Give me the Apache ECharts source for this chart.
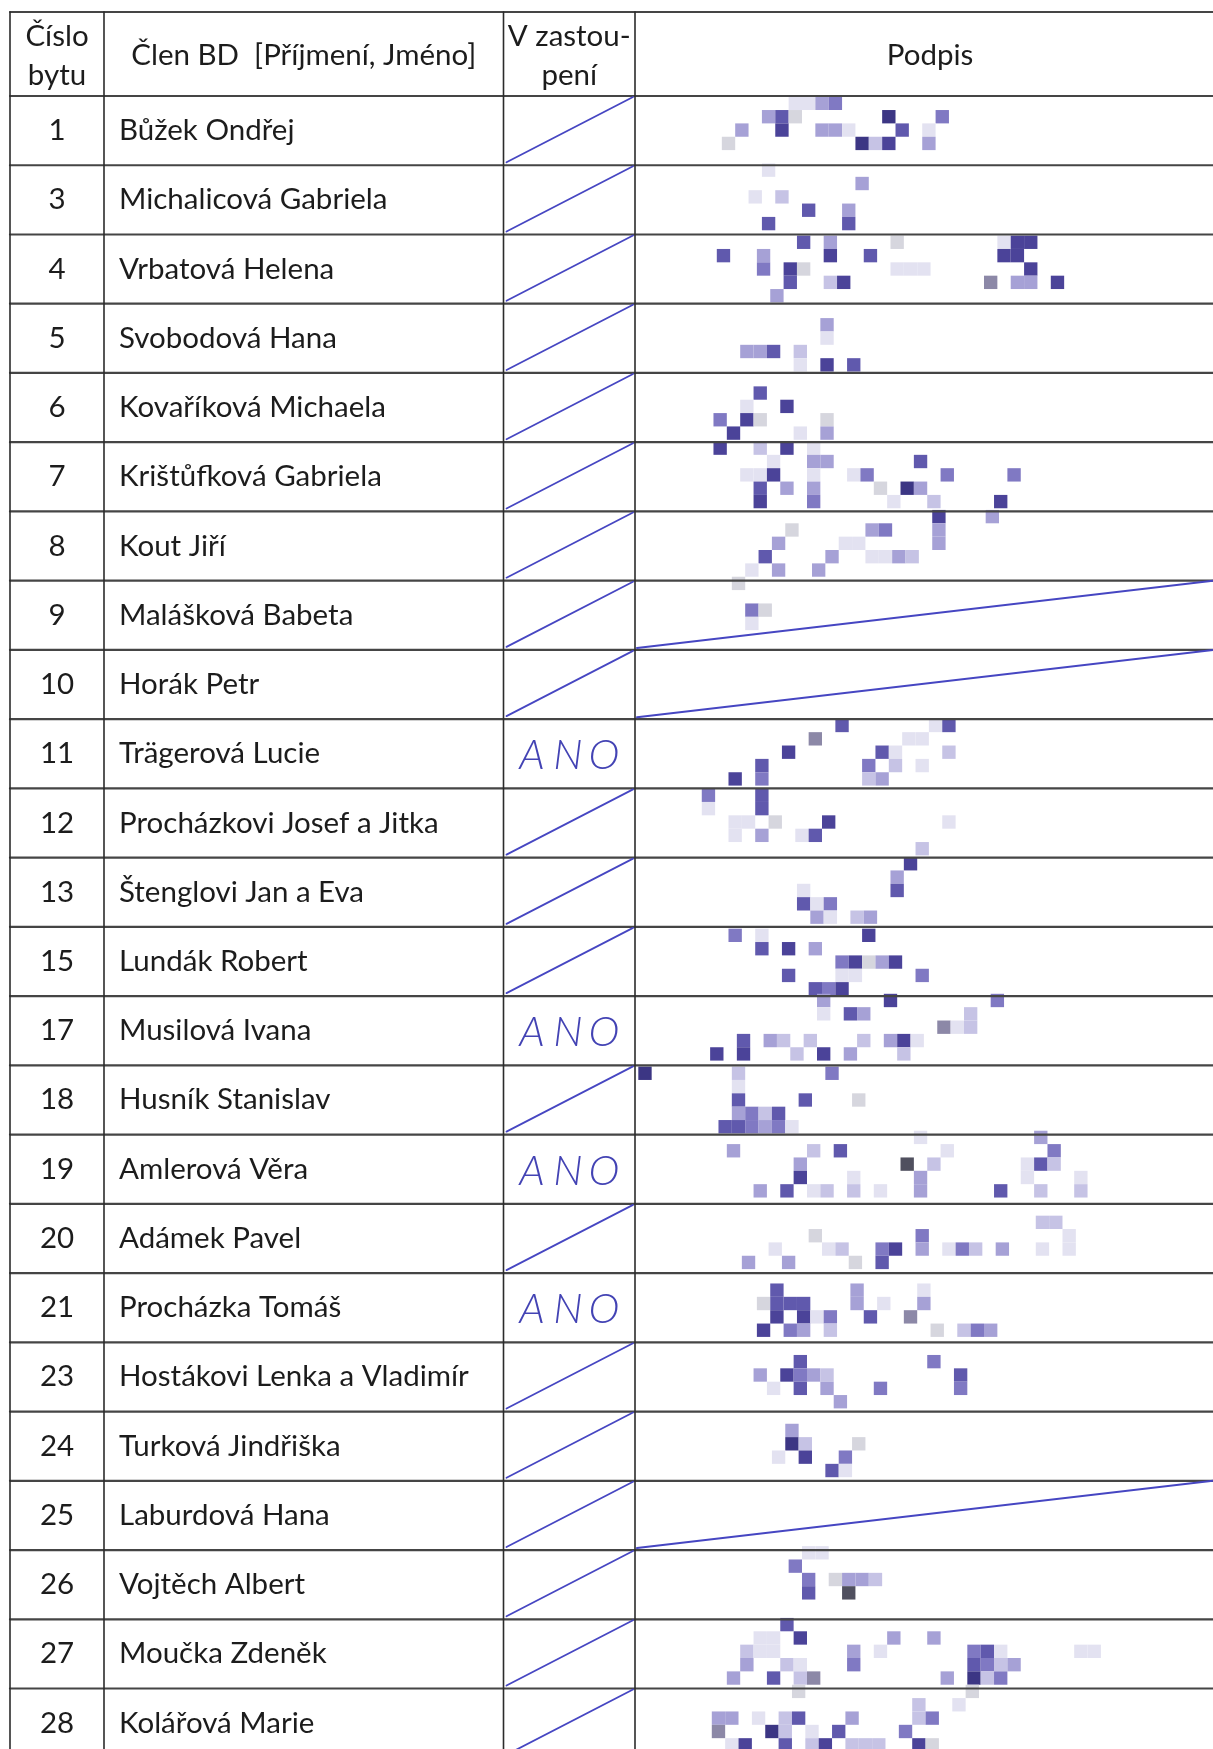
<!DOCTYPE html>
<html><head><meta charset="utf-8">
<script src="https://cdn.jsdelivr.net/npm/echarts@6/dist/echarts.min.js"></script>
<style>html,body{margin:0;padding:0;background:#fff}#c{width:1213px;height:1749px}</style>
</head><body><div id="c"></div>
<script>
// ---------------- DATA ----------------
const headerLabels = ['Číslo\nbytu', 'Člen BD  [Příjmení, Jméno]', 'V zastou-\npení', 'Podpis'];
const bytNumbers = [1, 3, 4, 5, 6, 7, 8, 9, 10, 11, 12, 13, 15, 17, 18, 19, 20, 21, 23, 24, 25, 26, 27, 28];
const memberNames = ['Bůžek Ondřej', 'Michalicová Gabriela', 'Vrbatová Helena', 'Svobodová Hana',
  'Kovaříková Michaela', 'Krištůfková Gabriela', 'Kout Jiří', 'Malášková Babeta', 'Horák Petr',
  'Trägerová Lucie', 'Procházkovi Josef a Jitka', 'Štenglovi Jan a Eva', 'Lundák Robert',
  'Musilová Ivana', 'Husník Stanislav', 'Amlerová Věra', 'Adámek Pavel', 'Procházka Tomáš',
  'Hostákovi Lenka a Vladimír', 'Turková Jindřiška', 'Laburdová Hana', 'Vojtěch Albert',
  'Moučka Zdeněk', 'Kolářová Marie'];
// '' = crossed out with a slash, 'ANO' = handwritten yes
const representation = ['', '', '', '', '', '', '', '', '', 'ANO', '', '', '', 'ANO', '', 'ANO', '', 'ANO', '', '', '', '', '', ''];
// rows whose signature cell is struck through instead of signed
const struckSignatureRows = [7, 8, 20];
// pixelated signatures: cells [col, row, shade level]
const signatures = [
  {row: 0, cells: [[11,0,1],[12,0,1],[13,0,3],[14,0,4],[9,1,3],[10,1,5],[11,1,9],[18,1,7],[22,1,4],[7,2,3],[10,2,6],[13,2,3],[14,2,3],[15,2,1],[19,2,5],[21,2,1],[6,3,9],[16,3,7],[17,3,2],[18,3,6],[21,3,3]]},
  {row: 1, cells: [[9,5,1],[16,6,3],[8,7,1],[10,7,2],[12,8,5],[15,8,3],[9,9,5],[15,9,5]]},
  {row: 2, cells: [[11,10,5],[13,10,3],[18,10,9],[26,10,1],[27,10,6],[28,10,6],[5,11,5],[8,11,3],[13,11,6],[16,11,5],[26,11,6],[27,11,6],[8,12,4],[10,12,6],[11,12,9],[18,12,1],[19,12,1],[20,12,1],[28,12,6],[10,13,5],[13,13,2],[14,13,6],[25,13,10],[27,13,3],[28,13,3],[30,13,6],[9,14,3]]},
  {row: 3, cells: [[13,16,3],[13,17,1],[7,18,3],[8,18,3],[9,18,5],[11,18,2],[11,19,1],[13,19,6],[15,19,5]]},
  {row: 4, cells: [[8,1,5],[7,2,1],[10,2,6],[5,3,4],[7,3,6],[8,3,9],[13,3,9],[6,4,6],[11,4,1],[13,4,3]]},
  {row: 5, cells: [[5,5,6],[8,5,2],[10,5,6],[12,5,1],[9,6,1],[12,6,3],[13,6,3],[20,6,5],[7,7,1],[8,7,1],[9,7,6],[12,7,1],[15,7,1],[16,7,4],[22,7,4],[27,7,4],[8,8,5],[10,8,3],[12,8,3],[17,8,9],[19,8,7],[20,8,3],[8,9,6],[12,9,4],[18,9,1],[21,9,2],[26,9,6]]},
  {row: 6, cells: [[21,10,6],[25,10,3],[10,11,9],[16,11,3],[17,11,4],[21,11,3],[9,12,3],[14,12,1],[15,12,1],[21,12,3],[8,13,5],[13,13,3],[16,13,1],[17,13,1],[18,13,3],[19,13,2],[7,14,1],[9,14,3],[12,14,3],[6,15,9],[7,17,4],[8,17,9],[7,18,1]]},
  {row: 9, cells: [[14,5,5],[21,5,1],[22,5,5],[12,6,10],[19,6,1],[20,6,1],[10,7,6],[17,7,5],[18,7,1],[22,7,2],[8,8,5],[16,8,4],[18,8,2],[20,8,1],[6,9,6],[8,9,4],[16,9,2],[17,9,3]]},
  {row: 10, cells: [[4,10,4],[8,10,5],[4,11,1],[8,11,5],[6,12,1],[7,12,1],[9,12,9],[13,12,6],[22,12,1],[6,13,1],[8,13,3],[11,13,1],[12,13,5],[20,14,2]]},
  {row: 11, cells: [[19,15,6],[18,16,3],[11,17,1],[18,17,5],[11,18,5],[12,18,1],[13,18,4],[12,19,3],[13,19,1],[15,19,2],[16,19,3]]},
  {row: 12, cells: [[6,0,4],[8,0,1],[16,0,6],[8,1,5],[10,1,6],[12,1,3],[14,2,4],[15,2,6],[16,2,9],[17,2,3],[18,2,6],[10,3,5],[14,3,1],[15,3,1],[20,3,4],[12,4,5],[13,4,4],[14,4,6]]},
  {row: 13, cells: [[13,5,3],[18,5,6],[26,5,4],[13,6,1],[15,6,5],[16,6,3],[24,6,2],[22,7,10],[23,7,1],[24,7,2],[7,8,5],[9,8,3],[10,8,2],[12,8,2],[16,8,2],[18,8,3],[19,8,6],[20,8,1],[5,9,6],[7,9,6],[11,9,2],[13,9,6],[15,9,3],[19,9,2]]},
  {row: 14, cells: [[-1,10,7],[6,10,2],[13,10,4],[6,11,1],[6,12,5],[11,12,5],[15,12,9],[6,13,3],[7,13,4],[8,13,2],[9,13,5],[5,14,5],[6,14,5],[7,14,4],[8,14,3],[9,14,4],[10,14,1]]},
  {row: 15, cells: [[20,15,1],[29,15,3],[6,16,3],[12,16,2],[14,16,5],[22,16,1],[30,16,4],[11,17,3],[19,17,8],[21,17,2],[28,17,1],[29,17,5],[30,17,2],[11,18,6],[15,18,1],[20,18,3],[28,18,1],[32,18,1],[8,19,3],[10,19,5],[12,19,1],[13,19,2],[15,19,2],[17,19,1],[20,19,3],[26,19,5],[29,19,2],[32,19,2]]},
  {row: 16, cells: [[29,0,2],[30,0,2],[12,1,9],[20,1,4],[31,1,1],[9,2,1],[13,2,1],[14,2,2],[17,2,4],[18,2,6],[20,2,3],[22,2,1],[23,2,4],[24,2,2],[26,2,3],[29,2,1],[31,2,1],[7,3,3],[10,3,3],[15,3,9],[17,3,5]]},
  {row: 17, cells: [[9,5,5],[15,5,3],[20,5,1],[8,6,9],[9,6,5],[10,6,5],[11,6,5],[15,6,3],[17,6,1],[20,6,3],[9,7,6],[11,7,6],[12,7,1],[13,7,4],[16,7,5],[19,7,10],[8,8,6],[10,8,4],[11,8,3],[13,8,2],[21,8,9],[23,8,2],[24,8,4],[25,8,3]]},
  {row: 18, cells: [[11,11,5],[21,11,4],[8,12,3],[10,12,6],[11,12,4],[12,12,3],[13,12,2],[23,12,5],[9,13,1],[11,13,5],[13,13,3],[17,13,4],[23,13,4],[14,14,3]]},
  {row: 19, cells: [[10,16,3],[10,17,7],[11,17,2],[15,17,9],[9,18,1],[11,18,6],[14,18,4],[13,19,5],[14,19,1]]},
  {row: 21, cells: [[12,4,1],[13,4,1],[11,5,4],[12,6,4],[14,6,9],[15,6,3],[16,6,3],[17,6,2],[12,7,5],[15,7,8]]},
  {row: 22, cells: [[10,10,5],[8,11,1],[9,11,1],[11,11,6],[18,11,3],[21,11,3],[7,12,2],[8,12,1],[9,12,1],[15,12,3],[17,12,1],[24,12,4],[25,12,5],[26,12,1],[32,12,1],[33,12,1],[7,13,3],[10,13,2],[11,13,1],[15,13,4],[24,13,5],[25,13,4],[26,13,2],[27,13,3],[6,14,3],[9,14,5],[11,14,2],[12,14,10],[22,14,3],[24,14,7],[25,14,2],[26,14,4]]},
  {row: 23, cells: [[11,15,9],[24,15,9],[20,16,2],[23,16,1],[5,17,3],[6,17,3],[8,17,1],[10,17,2],[11,17,5],[15,17,3],[20,17,2],[21,17,4],[5,18,10],[9,18,7],[10,18,2],[12,18,1],[14,18,5],[19,18,4],[6,19,1],[7,19,6],[10,19,5],[12,19,2],[13,19,6],[15,19,2],[16,19,2],[17,19,2],[20,19,6],[21,19,9]]}
];

// ---------------- LAYOUT & STYLE ----------------
const L = {
  W: 1213, H: 1749,
  colX: [10, 104, 503.5, 635], right: 1213, podpisCenter: 930,
  top: 12, headBottom: 96, rowH: 69.24,
  numX: 57, nameX: 119,
  font: 'Lato', fontSize: 29.5, headFontSize: 29.5, headLineHeight: 39, headCenterY: 55.5,
  text: '#1c1c1c', hLine: '#454545', vLine: '#2b2b2b',
  ink: '#4646c2', anoInk: '#4343b4', anoCenterX: 568, anoStep: 36,
  cell: 13.36,
  // mosaic grid origin for each signature (same order as `signatures`)
  sigOrigins: [[641.67,96.67],[641.67,96.67],[650,102],[646.67,104.33],[646.67,373],[646.67,374.67],[651.67,376.33],[648.33,652],[648.33,655],[650,656.67],[648.33,928.67],[643.33,927],[651.67,933],[646.67,930.33],[648.33,1215.67],[650,1216.67],[646.67,1208],[651.67,1210],[641.67,1492.67],[646.67,1484.33],[645,1484.33]],
  shades: {1:'#e3e2f1', 2:'#c6c3e5', 3:'#a6a1d6', 4:'#8079c3', 5:'#6059ad', 6:'#4b4399', 7:'#3c3684', 8:'#50505f', 9:'#d6d6de', 10:'#8c88a7'}
};
const rowTop = i => L.headBottom + i * L.rowH;

// ---------------- CHART ----------------
const chart = echarts.init(document.getElementById('c'), null, {renderer: 'canvas'});

const mosaicData = [];
signatures.forEach((s, si) => s.cells.forEach(c => mosaicData.push([si, c[0], c[1], c[2]])));

function line(api, x1, y1, x2, y2, stroke, w) {
  const a = api.coord([x1, y1]), b = api.coord([x2, y2]);
  return {type: 'line', shape: {x1: a[0], y1: a[1], x2: b[0], y2: b[1]}, style: {stroke: stroke, lineWidth: w, lineCap: 'round'}};
}
function txt(api, x, y, text, opt) {
  const p = api.coord([x, y]);
  return {type: 'text', x: p[0], y: p[1], style: Object.assign({text: text, fill: L.text, fontFamily: L.font, fontSize: L.fontSize, align: 'left', verticalAlign: 'middle'}, opt || {})};
}

const option = {
  animation: false,
  backgroundColor: '#ffffff',
  grid: {left: 0, right: 0, top: 0, bottom: 0},
  xAxis: {type: 'value', min: 0, max: L.W, show: false},
  yAxis: {type: 'value', min: 0, max: L.H, inverse: true, show: false},
  series: [
    { // signature mosaics
      type: 'custom', coordinateSystem: 'cartesian2d', z: 1, silent: true,
      data: mosaicData,
      renderItem: function (params, api) {
        const si = api.value(0), k = api.value(1), m = api.value(2), lv = api.value(3);
        const o = L.sigOrigins[si];
        const x = o[0] + k * L.cell, y = o[1] + m * L.cell;
        const a = api.coord([x, y]), b = api.coord([x + L.cell, y + L.cell]);
        return {type: 'rect', shape: {x: a[0], y: a[1], width: b[0] - a[0], height: b[1] - a[1]}, style: {fill: L.shades[lv]}};
      }
    },
    { // table frame
      type: 'custom', coordinateSystem: 'cartesian2d', z: 2, silent: true,
      data: [[0, 0]],
      renderItem: function (params, api) {
        const ch = [];
        ch.push(line(api, L.colX[0], L.top, L.right, L.top, L.hLine, 2.2));
        ch.push(line(api, L.colX[0], L.headBottom, L.right, L.headBottom, L.hLine, 2.2));
        bytNumbers.forEach((n, i) => {
          const yb = rowTop(i + 1);
          ch.push(line(api, L.colX[0], yb, L.right, yb, L.hLine, 2.2));
        });
        L.colX.forEach(x => ch.push(line(api, x, L.top, x, L.H, L.vLine, 1.6)));
        return {type: 'group', children: ch};
      }
    },
    { // header
      type: 'custom', coordinateSystem: 'cartesian2d', z: 3, silent: true,
      data: headerLabels.map((t, i) => [i, 0]),
      renderItem: function (params, api) {
        const i = api.value(0);
        const cx = i < 3 ? (L.colX[i] + L.colX[i + 1]) / 2 : L.podpisCenter;
        return txt(api, cx, L.headCenterY, headerLabels[i], {align: 'center', fontSize: L.headFontSize, lineHeight: L.headLineHeight});
      }
    },
    { // rows: number, name, representation
      type: 'custom', coordinateSystem: 'cartesian2d', z: 3, silent: true,
      data: bytNumbers.map((n, i) => [i, n]),
      renderItem: function (params, api) {
        const i = api.value(0);
        const t = rowTop(i), b = rowTop(i + 1), cy = (t + b) / 2;
        const ch = [];
        ch.push(txt(api, L.numX, cy, String(bytNumbers[i]), {align: 'center'}));
        ch.push(txt(api, L.nameX, cy, memberNames[i]));
        if (representation[i] === 'ANO') {
          representation[i].split('').forEach((c, j) => {
            ch.push(txt(api, L.anoCenterX + (j - 1) * L.anoStep, cy + 2, c, {align: 'center', fill: L.anoInk, fontFamily: 'Lato', fontStyle: 'italic', fontWeight: 300, fontSize: 42}));
          });
        } else {
          ch.push(line(api, L.colX[2] + 3, b - 3, L.colX[3] - 2, t + 1, L.ink, 1.8));
        }
        if (struckSignatureRows.indexOf(i) >= 0) {
          ch.push(line(api, L.colX[3] + 2, b - 2, L.right, t, L.ink, 2));
        }
        return {type: 'group', children: ch};
      }
    }
  ]
};
chart.setOption(option);
</script>
</body></html>
